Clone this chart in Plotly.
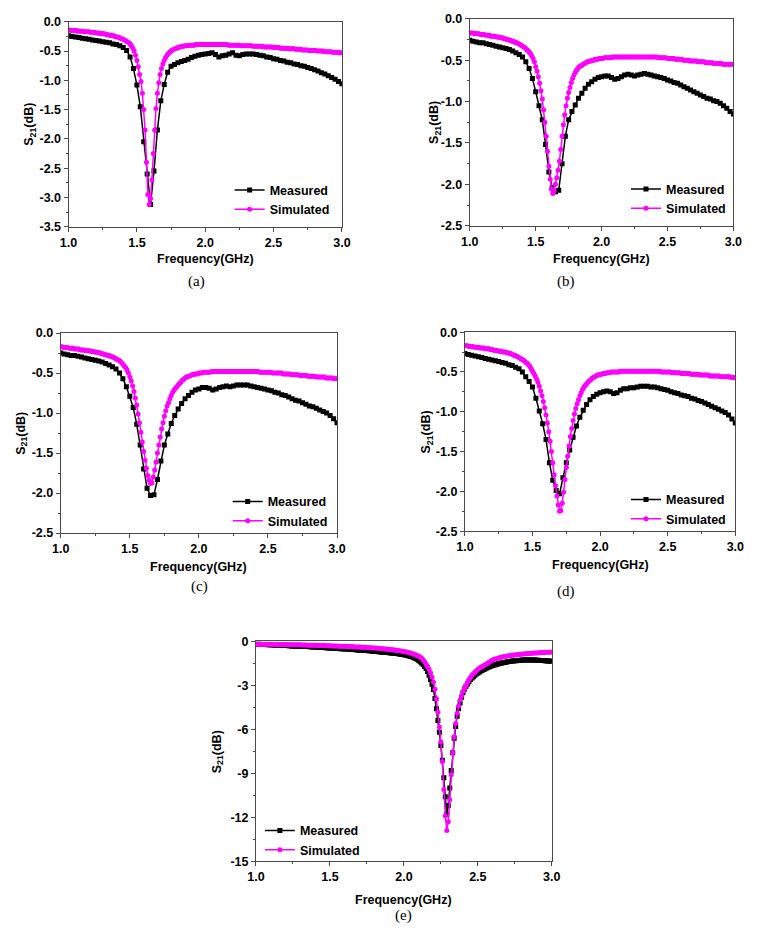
import plotly.graph_objects as go

# ---------------- data ----------------
FREQ_SIM = [round(1.0 + 0.01 * i, 2) for i in range(201)]     # 1.00 .. 3.00 GHz
FREQ_MEAS = [round(1.0 + 0.025 * i, 3) for i in range(81)]    # 1.000 .. 3.000 GHz

sim_a = [
    -0.14, -0.14, -0.15, -0.15, -0.15, -0.15, -0.15, -0.16, -0.16, -0.16,
    -0.16, -0.16, -0.17, -0.17, -0.17, -0.17, -0.18, -0.18, -0.18, -0.18,
    -0.19, -0.19, -0.19, -0.20, -0.20, -0.20, -0.21, -0.21, -0.22, -0.22,
    -0.23, -0.23, -0.24, -0.24, -0.25, -0.26, -0.26, -0.27, -0.28, -0.29,
    -0.30, -0.31, -0.33, -0.34, -0.36, -0.38, -0.41, -0.45, -0.50, -0.57,
    -0.66, -0.77, -0.90, -1.02, -1.22, -1.50, -1.85, -2.40, -2.95, -3.12,
    -3.02, -2.70, -2.25, -1.85, -1.48, -1.22, -1.04, -0.90, -0.80, -0.72,
    -0.66, -0.61, -0.57, -0.54, -0.52, -0.50, -0.48, -0.47, -0.46, -0.45,
    -0.44, -0.43, -0.43, -0.42, -0.42, -0.41, -0.41, -0.41, -0.40, -0.40,
    -0.40, -0.40, -0.40, -0.39, -0.39, -0.39, -0.39, -0.39, -0.39, -0.39,
    -0.39, -0.39, -0.39, -0.39, -0.39, -0.39, -0.39, -0.39, -0.39, -0.39,
    -0.39, -0.39, -0.39, -0.39, -0.39, -0.39, -0.39, -0.40, -0.40, -0.40,
    -0.40, -0.40, -0.40, -0.40, -0.40, -0.40, -0.41, -0.41, -0.41, -0.41,
    -0.41, -0.41, -0.41, -0.41, -0.41, -0.42, -0.42, -0.42, -0.42, -0.42,
    -0.42, -0.42, -0.42, -0.43, -0.43, -0.43, -0.43, -0.43, -0.43, -0.43,
    -0.44, -0.44, -0.44, -0.44, -0.44, -0.45, -0.45, -0.45, -0.45, -0.45,
    -0.45, -0.46, -0.46, -0.46, -0.46, -0.46, -0.47, -0.47, -0.47, -0.47,
    -0.47, -0.48, -0.48, -0.48, -0.48, -0.48, -0.49, -0.49, -0.49, -0.49,
    -0.49, -0.49, -0.50, -0.50, -0.50, -0.50, -0.50, -0.51, -0.51, -0.51,
    -0.51, -0.51, -0.51, -0.52, -0.52, -0.52, -0.52, -0.52, -0.53, -0.53,
    -0.53]

meas_a = [
    -0.24, -0.25, -0.26, -0.27, -0.28, -0.29, -0.30, -0.31, -0.32, -0.33,
    -0.34, -0.35, -0.36, -0.38, -0.39, -0.41, -0.44, -0.49, -0.60, -0.80,
    -1.08, -1.45, -2.05, -2.60, -3.12, -2.55, -1.85, -1.35, -1.07, -0.86,
    -0.76, -0.73, -0.70, -0.68, -0.66, -0.64, -0.61, -0.59, -0.57, -0.56,
    -0.55, -0.54, -0.53, -0.56, -0.60, -0.58, -0.57, -0.55, -0.53, -0.57,
    -0.58, -0.56, -0.55, -0.55, -0.55, -0.56, -0.57, -0.58, -0.60, -0.61,
    -0.63, -0.64, -0.66, -0.67, -0.69, -0.70, -0.72, -0.73, -0.75, -0.76,
    -0.78, -0.80, -0.82, -0.84, -0.87, -0.89, -0.92, -0.95, -0.98, -1.02,
    -1.06]

sim_b = [
    -0.17, -0.17, -0.17, -0.17, -0.18, -0.18, -0.18, -0.18, -0.19, -0.19,
    -0.19, -0.19, -0.20, -0.20, -0.20, -0.20, -0.21, -0.21, -0.21, -0.21,
    -0.22, -0.22, -0.22, -0.23, -0.23, -0.23, -0.24, -0.24, -0.25, -0.25,
    -0.26, -0.26, -0.27, -0.27, -0.28, -0.29, -0.29, -0.30, -0.31, -0.32,
    -0.33, -0.34, -0.35, -0.37, -0.38, -0.40, -0.42, -0.45, -0.48, -0.52,
    -0.58, -0.63, -0.70, -0.78, -0.87, -0.97, -1.10, -1.25, -1.42, -1.60,
    -1.78, -1.94, -2.06, -2.11, -2.08, -2.00, -1.92, -1.83, -1.72, -1.58,
    -1.42, -1.28, -1.16, -1.05, -0.96, -0.89, -0.83, -0.77, -0.72, -0.68,
    -0.65, -0.62, -0.60, -0.58, -0.57, -0.56, -0.55, -0.54, -0.53, -0.52,
    -0.52, -0.51, -0.51, -0.50, -0.50, -0.49, -0.49, -0.49, -0.48, -0.48,
    -0.48, -0.48, -0.47, -0.47, -0.47, -0.47, -0.47, -0.47, -0.46, -0.46,
    -0.46, -0.46, -0.46, -0.46, -0.46, -0.46, -0.46, -0.46, -0.46, -0.46,
    -0.46, -0.46, -0.46, -0.46, -0.46, -0.46, -0.46, -0.46, -0.46, -0.46,
    -0.46, -0.46, -0.46, -0.46, -0.46, -0.46, -0.46, -0.46, -0.46, -0.46,
    -0.46, -0.46, -0.46, -0.47, -0.47, -0.47, -0.47, -0.47, -0.47, -0.47,
    -0.48, -0.48, -0.48, -0.48, -0.48, -0.48, -0.49, -0.49, -0.49, -0.49,
    -0.49, -0.49, -0.50, -0.50, -0.50, -0.50, -0.50, -0.51, -0.51, -0.51,
    -0.51, -0.51, -0.51, -0.52, -0.52, -0.52, -0.52, -0.52, -0.52, -0.53,
    -0.53, -0.53, -0.53, -0.53, -0.53, -0.54, -0.54, -0.54, -0.54, -0.54,
    -0.54, -0.54, -0.55, -0.55, -0.55, -0.55, -0.55, -0.55, -0.55, -0.55,
    -0.55]

meas_b = [
    -0.26, -0.27, -0.28, -0.29, -0.29, -0.30, -0.31, -0.32, -0.33, -0.34,
    -0.35, -0.36, -0.37, -0.39, -0.41, -0.43, -0.46, -0.52, -0.60, -0.72,
    -0.88, -1.05, -1.22, -1.52, -1.85, -2.04, -2.09, -2.07, -1.75, -1.42,
    -1.22, -1.12, -1.04, -0.96, -0.90, -0.84, -0.79, -0.76, -0.73, -0.71,
    -0.70, -0.69, -0.69, -0.71, -0.73, -0.72, -0.70, -0.68, -0.67, -0.68,
    -0.69, -0.68, -0.67, -0.66, -0.67, -0.68, -0.69, -0.70, -0.71, -0.72,
    -0.74, -0.75, -0.77, -0.78, -0.80, -0.82, -0.84, -0.86, -0.88, -0.90,
    -0.92, -0.94, -0.96, -0.97, -0.99, -1.00, -1.02, -1.05, -1.08, -1.12,
    -1.15]

sim_c = [
    -0.17, -0.17, -0.18, -0.18, -0.18, -0.18, -0.19, -0.19, -0.19, -0.19,
    -0.20, -0.20, -0.20, -0.20, -0.21, -0.21, -0.21, -0.21, -0.22, -0.22,
    -0.22, -0.22, -0.23, -0.23, -0.23, -0.24, -0.24, -0.24, -0.25, -0.25,
    -0.26, -0.26, -0.27, -0.27, -0.28, -0.28, -0.29, -0.30, -0.30, -0.31,
    -0.32, -0.33, -0.34, -0.35, -0.37, -0.39, -0.41, -0.43, -0.46, -0.50,
    -0.55, -0.60, -0.66, -0.73, -0.81, -0.90, -1.01, -1.12, -1.24, -1.36,
    -1.48, -1.59, -1.69, -1.78, -1.84, -1.88, -1.87, -1.80, -1.71, -1.61,
    -1.50, -1.40, -1.30, -1.20, -1.12, -1.04, -0.97, -0.91, -0.87, -0.82,
    -0.78, -0.74, -0.71, -0.69, -0.67, -0.65, -0.63, -0.61, -0.59, -0.58,
    -0.56, -0.55, -0.54, -0.54, -0.53, -0.52, -0.52, -0.51, -0.51, -0.51,
    -0.50, -0.50, -0.50, -0.49, -0.49, -0.49, -0.49, -0.49, -0.49, -0.48,
    -0.48, -0.48, -0.48, -0.48, -0.48, -0.48, -0.48, -0.48, -0.48, -0.48,
    -0.48, -0.48, -0.48, -0.48, -0.48, -0.48, -0.48, -0.48, -0.48, -0.48,
    -0.48, -0.48, -0.48, -0.48, -0.48, -0.48, -0.48, -0.48, -0.48, -0.48,
    -0.48, -0.48, -0.48, -0.48, -0.49, -0.49, -0.49, -0.49, -0.49, -0.49,
    -0.49, -0.49, -0.49, -0.50, -0.50, -0.50, -0.50, -0.50, -0.50, -0.50,
    -0.50, -0.51, -0.51, -0.51, -0.51, -0.51, -0.51, -0.52, -0.52, -0.52,
    -0.52, -0.52, -0.52, -0.53, -0.53, -0.53, -0.53, -0.53, -0.53, -0.54,
    -0.54, -0.54, -0.54, -0.54, -0.54, -0.55, -0.55, -0.55, -0.55, -0.55,
    -0.55, -0.55, -0.56, -0.56, -0.56, -0.56, -0.56, -0.56, -0.57, -0.57,
    -0.57]

meas_c = [
    -0.25, -0.26, -0.27, -0.28, -0.28, -0.29, -0.30, -0.31, -0.32, -0.33,
    -0.34, -0.35, -0.36, -0.38, -0.40, -0.42, -0.45, -0.50, -0.57, -0.67,
    -0.79, -0.93, -1.14, -1.40, -1.70, -1.94, -2.03, -2.02, -1.83, -1.60,
    -1.40, -1.26, -1.13, -1.03, -0.95, -0.88, -0.82, -0.78, -0.74, -0.71,
    -0.70, -0.68, -0.68, -0.69, -0.71, -0.70, -0.68, -0.67, -0.66, -0.67,
    -0.66, -0.65, -0.65, -0.65, -0.65, -0.66, -0.67, -0.68, -0.69, -0.70,
    -0.71, -0.72, -0.74, -0.75, -0.77, -0.78, -0.80, -0.82, -0.84, -0.85,
    -0.87, -0.89, -0.91, -0.92, -0.94, -0.96, -0.98, -1.00, -1.03, -1.07,
    -1.12]

sim_d = [
    -0.17, -0.17, -0.17, -0.18, -0.18, -0.18, -0.18, -0.19, -0.19, -0.19,
    -0.19, -0.20, -0.20, -0.20, -0.20, -0.21, -0.21, -0.21, -0.21, -0.22,
    -0.22, -0.22, -0.23, -0.23, -0.23, -0.24, -0.24, -0.24, -0.25, -0.25,
    -0.25, -0.26, -0.26, -0.27, -0.27, -0.28, -0.29, -0.29, -0.30, -0.31,
    -0.32, -0.33, -0.34, -0.35, -0.36, -0.38, -0.39, -0.41, -0.43, -0.46,
    -0.49, -0.52, -0.55, -0.59, -0.63, -0.68, -0.74, -0.80, -0.87, -0.95,
    -1.04, -1.14, -1.25, -1.37, -1.50, -1.64, -1.79, -1.93, -2.06, -2.17,
    -2.25, -2.24, -2.15, -2.01, -1.85, -1.70, -1.56, -1.43, -1.31, -1.21,
    -1.11, -1.03, -0.96, -0.90, -0.85, -0.80, -0.76, -0.72, -0.69, -0.67,
    -0.65, -0.63, -0.61, -0.60, -0.58, -0.57, -0.56, -0.55, -0.54, -0.54,
    -0.53, -0.53, -0.52, -0.52, -0.52, -0.51, -0.51, -0.51, -0.50, -0.50,
    -0.50, -0.50, -0.50, -0.50, -0.50, -0.49, -0.49, -0.49, -0.49, -0.49,
    -0.49, -0.49, -0.49, -0.49, -0.49, -0.49, -0.49, -0.49, -0.49, -0.49,
    -0.49, -0.49, -0.49, -0.49, -0.49, -0.49, -0.49, -0.49, -0.49, -0.49,
    -0.49, -0.49, -0.49, -0.49, -0.49, -0.50, -0.50, -0.50, -0.50, -0.50,
    -0.50, -0.50, -0.50, -0.51, -0.51, -0.51, -0.51, -0.51, -0.51, -0.51,
    -0.52, -0.52, -0.52, -0.52, -0.52, -0.52, -0.52, -0.53, -0.53, -0.53,
    -0.53, -0.53, -0.53, -0.53, -0.54, -0.54, -0.54, -0.54, -0.54, -0.54,
    -0.54, -0.55, -0.55, -0.55, -0.55, -0.55, -0.55, -0.55, -0.55, -0.56,
    -0.56, -0.56, -0.56, -0.56, -0.56, -0.56, -0.56, -0.57, -0.57, -0.57,
    -0.57]

meas_d = [
    -0.27, -0.28, -0.29, -0.30, -0.31, -0.32, -0.33, -0.34, -0.35, -0.36,
    -0.37, -0.38, -0.39, -0.41, -0.42, -0.44, -0.46, -0.50, -0.56, -0.62,
    -0.69, -0.83, -0.99, -1.15, -1.35, -1.64, -1.86, -1.99, -2.03, -1.83,
    -1.64, -1.48, -1.32, -1.18, -1.07, -0.98, -0.91, -0.85, -0.81, -0.78,
    -0.76, -0.75, -0.74, -0.75, -0.77, -0.76, -0.73, -0.71, -0.71, -0.70,
    -0.70, -0.69, -0.68, -0.68, -0.68, -0.69, -0.69, -0.70, -0.71, -0.72,
    -0.73, -0.75, -0.76, -0.77, -0.79, -0.80, -0.81, -0.83, -0.84, -0.86,
    -0.87, -0.89, -0.91, -0.93, -0.95, -0.97, -0.99, -1.01, -1.04, -1.09,
    -1.14]

sim_e = [
    -0.18, -0.18, -0.18, -0.18, -0.18, -0.18, -0.19, -0.19, -0.19, -0.19,
    -0.19, -0.19, -0.19, -0.20, -0.20, -0.20, -0.20, -0.20, -0.21, -0.21,
    -0.21, -0.21, -0.21, -0.22, -0.22, -0.22, -0.22, -0.23, -0.23, -0.23,
    -0.23, -0.24, -0.24, -0.24, -0.24, -0.25, -0.25, -0.25, -0.26, -0.26,
    -0.26, -0.26, -0.27, -0.27, -0.27, -0.28, -0.28, -0.28, -0.29, -0.29,
    -0.29, -0.30, -0.30, -0.30, -0.31, -0.31, -0.32, -0.32, -0.32, -0.33,
    -0.33, -0.34, -0.34, -0.35, -0.35, -0.36, -0.36, -0.37, -0.37, -0.38,
    -0.38, -0.39, -0.39, -0.40, -0.40, -0.41, -0.42, -0.42, -0.43, -0.44,
    -0.45, -0.45, -0.46, -0.47, -0.48, -0.49, -0.50, -0.51, -0.52, -0.53,
    -0.54, -0.55, -0.56, -0.57, -0.59, -0.60, -0.62, -0.63, -0.65, -0.66,
    -0.68, -0.70, -0.72, -0.75, -0.77, -0.80, -0.83, -0.87, -0.91, -0.95,
    -1.00, -1.06, -1.14, -1.24, -1.38, -1.55, -1.70, -1.90, -2.13, -2.42,
    -2.76, -3.26, -3.93, -4.83, -5.84, -6.85, -8.20, -10.1, -11.9, -12.9,
    -12.3, -10.8, -9.10, -7.60, -6.50, -5.60, -4.90, -4.40, -4.00, -3.70,
    -3.40, -3.20, -3.00, -2.80, -2.60, -2.45, -2.30, -2.20, -2.10, -2.00,
    -1.90, -1.83, -1.76, -1.70, -1.64, -1.58, -1.52, -1.46, -1.40, -1.32,
    -1.26, -1.22, -1.19, -1.16, -1.13, -1.10, -1.08, -1.05, -1.03, -1.01,
    -0.99, -0.97, -0.96, -0.94, -0.93, -0.92, -0.90, -0.89, -0.88, -0.87,
    -0.86, -0.85, -0.84, -0.83, -0.82, -0.82, -0.81, -0.80, -0.79, -0.79,
    -0.78, -0.77, -0.77, -0.76, -0.76, -0.75, -0.74, -0.74, -0.73, -0.73,
    -0.72]

meas_e = [
    -0.18, -0.18, -0.19, -0.19, -0.20, -0.20, -0.21, -0.21, -0.22, -0.22,
    -0.23, -0.23, -0.24, -0.24, -0.25, -0.25, -0.26, -0.26, -0.27, -0.27,
    -0.28, -0.28, -0.29, -0.29, -0.30, -0.30, -0.31, -0.31, -0.32, -0.32,
    -0.33, -0.33, -0.34, -0.34, -0.35, -0.35, -0.36, -0.36, -0.37, -0.37,
    -0.38, -0.38, -0.39, -0.39, -0.40, -0.40, -0.41, -0.42, -0.43, -0.44,
    -0.45, -0.45, -0.46, -0.46, -0.47, -0.47, -0.48, -0.49, -0.49, -0.50,
    -0.51, -0.51, -0.52, -0.53, -0.54, -0.55, -0.55, -0.56, -0.57, -0.58,
    -0.59, -0.59, -0.60, -0.61, -0.62, -0.62, -0.63, -0.64, -0.65, -0.66,
    -0.67, -0.68, -0.69, -0.70, -0.71, -0.72, -0.73, -0.74, -0.75, -0.76,
    -0.77, -0.78, -0.79, -0.80, -0.81, -0.82, -0.84, -0.85, -0.87, -0.88,
    -0.90, -0.92, -0.94, -0.97, -1.00, -1.03, -1.07, -1.11, -1.16, -1.22,
    -1.30, -1.38, -1.47, -1.57, -1.70, -1.85, -2.05, -2.30, -2.60, -2.92,
    -3.28, -3.90, -4.60, -5.40, -6.20, -7.10, -8.10, -9.30, -10.6, -11.8,
    -11.2, -10.0, -8.80, -7.60, -6.60, -5.80, -5.10, -4.60, -4.20, -3.80,
    -3.50, -3.25, -3.05, -2.90, -2.75, -2.60, -2.50, -2.40, -2.30, -2.22,
    -2.15, -2.08, -2.02, -1.96, -1.91, -1.86, -1.81, -1.76, -1.72, -1.68,
    -1.64, -1.61, -1.58, -1.55, -1.52, -1.50, -1.47, -1.45, -1.43, -1.41,
    -1.39, -1.37, -1.36, -1.34, -1.33, -1.32, -1.31, -1.30, -1.29, -1.28,
    -1.27, -1.27, -1.26, -1.26, -1.26, -1.26, -1.26, -1.27, -1.27, -1.27,
    -1.28, -1.28, -1.29, -1.30, -1.30, -1.31, -1.32, -1.33, -1.34, -1.34,
    -1.35]

X_TICKS = [1.0, 1.5, 2.0, 2.5, 3.0]
X_TICKTEXT = ["1.0", "1.5", "2.0", "2.5", "3.0"]
Y_TICKS_A = [0.0, -0.5, -1.0, -1.5, -2.0, -2.5, -3.0, -3.5]
Y_TICKTEXT_A = ["0.0", "-0.5", "-1.0", "-1.5", "-2.0", "-2.5", "-3.0", "-3.5"]
Y_TICKS_B = [0.0, -0.5, -1.0, -1.5, -2.0, -2.5]
Y_TICKTEXT_B = ["0.0", "-0.5", "-1.0", "-1.5", "-2.0", "-2.5"]
Y_TICKS_E = [0, -3, -6, -9, -12, -15]
Y_TICKTEXT_E = ["0", "-3", "-6", "-9", "-12", "-15"]

SERIES_NAMES = ["Measured", "Simulated"]
PANEL_LABELS = ["(a)", "(b)", "(c)", "(d)", "(e)"]
X_TITLE = "Frequency(GHz)"
Y_TITLE = "S<sub>21</sub>(dB)"

# ---------------- layout geometry (pixels) ----------------
W, H = 758, 948
panels = [
    dict(box=(61, 341, 15, 223), yr=(-3.5, 0), yt=(Y_TICKS_A, Y_TICKTEXT_A), ym=0.25,
         meas=meas_a, sim=sim_a, leg=(226, 171), ytx=22, xty=256, lab=(192, 279)),
    dict(box=(472, 742, 12, 222), yr=(-2.5, 0), yt=(Y_TICKS_B, Y_TICKTEXT_B), ym=0.25,
         meas=meas_b, sim=sim_b, leg=(632, 170), ytx=437, xty=256, lab=(571, 279)),
    dict(box=(53, 336, 331, 534), yr=(-2.5, 0), yt=(Y_TICKS_B, Y_TICKTEXT_B), ym=0.25,
         meas=meas_c, sim=sim_c, leg=(224, 487), ytx=13, xty=568, lab=(195, 588)),
    dict(box=(467, 744, 330, 532), yr=(-2.5, 0), yt=(Y_TICKS_B, Y_TICKTEXT_B), ym=0.25,
         meas=meas_d, sim=sim_d, leg=(632, 485), ytx=428, xty=566, lab=(571, 593)),
    dict(box=(253, 556, 644, 867), yr=(-15, 0), yt=(Y_TICKS_E, Y_TICKTEXT_E), ym=1.5,
         meas=meas_e, sim=sim_e, leg=(257, 821), ytx=214, xty=906, lab=(404, 922)),
]

FONT = "Liberation Sans"
SERIF = "Liberation Serif"
AXCOL = "#4a4a4a"

fig = go.Figure()
layout = dict(
    width=W, height=H, margin=dict(l=0, r=0, t=0, b=0),
    paper_bgcolor="white", plot_bgcolor="white",
    annotations=[],
)


def px2x(px):
    return px / W


def px2y(py):
    return 1 - py / H


for i, p in enumerate(panels):
    n = "" if i == 0 else str(i + 1)
    x0, x1, y0, y1 = p["box"]
    legname = "legend" + n
    meas_x = FREQ_SIM if p["meas"] is meas_e else FREQ_MEAS
    fig.add_trace(go.Scatter(
        x=meas_x, y=p["meas"], name=SERIES_NAMES[0], mode="lines+markers",
        line=dict(color="black", width=1.5),
        marker=dict(symbol="square", size=5, color="black"),
        xaxis="x" + n, yaxis="y" + n, legend=legname))
    fig.add_trace(go.Scatter(
        x=FREQ_SIM, y=p["sim"], name=SERIES_NAMES[1], mode="lines+markers",
        line=dict(color="#ff00ff", width=1.5),
        marker=dict(symbol="circle", size=5, color="#ff00ff"),
        xaxis="x" + n, yaxis="y" + n, legend=legname))

    common = dict(
        showline=True, linecolor=AXCOL, linewidth=1, mirror=True,
        ticks="outside", ticklen=4, tickwidth=1, tickcolor=AXCOL,
        showgrid=False, zeroline=False,
        tickfont=dict(family=FONT, size=12.5, color="black", weight="bold"),
    )
    layout["xaxis" + n] = dict(
        common, domain=[px2x(x0), px2x(x1)], anchor="y" + n, range=[1, 3],
        tickmode="array", tickvals=X_TICKS, ticktext=X_TICKTEXT,
        minor=dict(tickmode="linear", tick0=1.0, dtick=0.25, ticks="outside",
                   ticklen=2, tickcolor=AXCOL),
    )
    layout["yaxis" + n] = dict(
        common, domain=[px2y(y1), px2y(y0)], anchor="x" + n, range=list(p["yr"]),
        tickmode="array", tickvals=p["yt"][0], ticktext=p["yt"][1],
        minor=dict(tickmode="linear", tick0=0, dtick=p["ym"], ticks="outside",
                   ticklen=2, tickcolor=AXCOL),
    )
    lx, ly = p["leg"]
    layout[legname] = dict(
        x=px2x(lx), y=px2y(ly), xanchor="left", yanchor="top",
        bgcolor="rgba(0,0,0,0)", borderwidth=0, itemwidth=30,
        font=dict(family=FONT, size=12.5, color="black", weight="bold"),
        tracegroupgap=0,
    )
    layout["annotations"].append(dict(
        text=Y_TITLE, x=px2x(p["ytx"]), y=px2y((y0 + y1) / 2), xref="paper", yref="paper",
        textangle=-90, showarrow=False, xanchor="center", yanchor="middle",
        font=dict(family=FONT, size=12.5, color="black", weight="bold")))
    layout["annotations"].append(dict(
        text=X_TITLE, x=px2x((x0 + x1) / 2), y=px2y(p["xty"]), xref="paper", yref="paper",
        showarrow=False, xanchor="center", yanchor="middle",
        font=dict(family=FONT, size=12.5, color="black", weight="bold")))
    lbx, lby = p["lab"]
    layout["annotations"].append(dict(
        text=PANEL_LABELS[i], x=px2x(lbx), y=px2y(lby), xref="paper", yref="paper",
        showarrow=False, xanchor="center", yanchor="middle",
        font=dict(family=SERIF, size=15, color="black")))

fig.update_layout(**layout)
fig.write_html(
    "out.html",
    config={"displayModeBar": False},
    post_script="document.body.style.margin='0';document.body.style.overflow='hidden';",
)
